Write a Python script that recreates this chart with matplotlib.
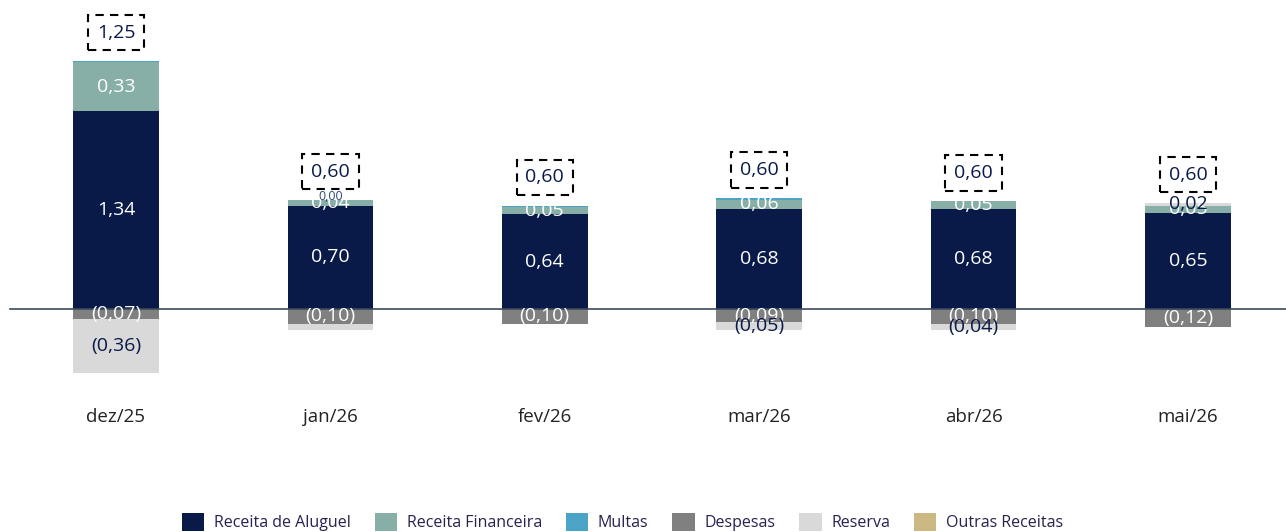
import matplotlib
matplotlib.use("Agg")
import matplotlib.pyplot as plt
import numpy as np

plt.rcParams['font.family'] = ['Open Sans', 'DejaVu Sans']

categories = ["dez/25", "jan/26", "fev/26", "mar/26", "abr/26", "mai/26"]
aluguel = [1.34, 0.70, 0.64, 0.68, 0.68, 0.65]
financeira = [0.33, 0.04, 0.05, 0.06, 0.05, 0.05]
multas = [0.01, 0.00, 0.01, 0.01, 0.00, 0.00]
despesas = [-0.07, -0.10, -0.10, -0.09, -0.10, -0.12]
reserva = [-0.36, -0.04, 0.00, -0.05, -0.04, 0.02]
outras = [0.0, 0.0, 0.0, 0.0, 0.0, 0.0]
totais = [1.25, 0.60, 0.60, 0.60, 0.60, 0.60]
reserva_show = [True, False, False, True, True, True]

series = [
    ("Receita de Aluguel", aluguel, "#0A1A48", "white"),
    ("Receita Financeira", financeira, "#87AEA7", "white"),
    ("Multas", multas, "#4BA3C7", "#1F3A6B"),
    ("Despesas", despesas, "#808080", "white"),
    ("Reserva", reserva, "#D9D9D9", "#0A1A48"),
    ("Outras Receitas", outras, "#CBB882", "#0A1A48"),
]

def fmt(v):
    s = f"{abs(v):.2f}".replace(".", ",")
    return f"({s})" if v < 0 else s

fig = plt.figure(figsize=(12.86, 5.32), dpi=100)
ax = fig.add_axes([0, 0, 1, 1])
x = np.arange(len(categories))
w = 0.40
pos_base = np.zeros(len(categories))
neg_base = np.zeros(len(categories))

handles = []
for name, vals, col, tcol in series:
    vals = np.array(vals, dtype=float)
    bottoms = np.where(vals >= 0, pos_base, neg_base)
    b = ax.bar(x, vals, w, bottom=bottoms, color=col, label=name, zorder=2)
    handles.append(b)
    for i, v in enumerate(vals):
        if name == "Multas":
            if i == 1:
                ax.text(x[i], bottoms[i] + 0.02, "0,00", ha="center", va="center",
                        fontsize=9, color="#2B4A7A", zorder=4)
            continue
        if v == 0:
            continue
        if name == "Reserva" and not reserva_show[i]:
            continue
        ax.text(x[i], bottoms[i] + v / 2, fmt(v), ha="center", va="center",
                fontsize=14, color=tcol, zorder=4)
    pos_base += np.where(vals >= 0, vals, 0)
    neg_base += np.where(vals < 0, vals, 0)

for i, t in enumerate(totais):
    ax.text(x[i], pos_base[i] + 0.19, fmt(t), ha="center", va="center",
            fontsize=14, color="#0A1A48", zorder=5,
            bbox=dict(boxstyle="square,pad=0.45", fc="white", ec="black",
                      lw=1.5, ls=(0, (4, 3))))

ax.plot([-0.494, 5.46], [0, 0], color="#3A4A5C", lw=1.2, zorder=3)

for i, c in enumerate(categories):
    ax.text(x[i], -0.73, c, ha="center", va="center", fontsize=13.5,
            color="#222222")

ax.set_xlim(-0.541, 5.457)
ax.set_ylim(-1.509, 2.091)
ax.axis("off")

leg = fig.legend(handles=handles, loc="center", bbox_to_anchor=(0.484, 0.019),
                 ncol=6, frameon=False, fontsize=11.5, handlelength=1.4,
                 handleheight=1.4, columnspacing=1.5, handletextpad=0.6)
for t in leg.get_texts():
    t.set_color("#2A2050")

fig.savefig("out.png", dpi=100)
